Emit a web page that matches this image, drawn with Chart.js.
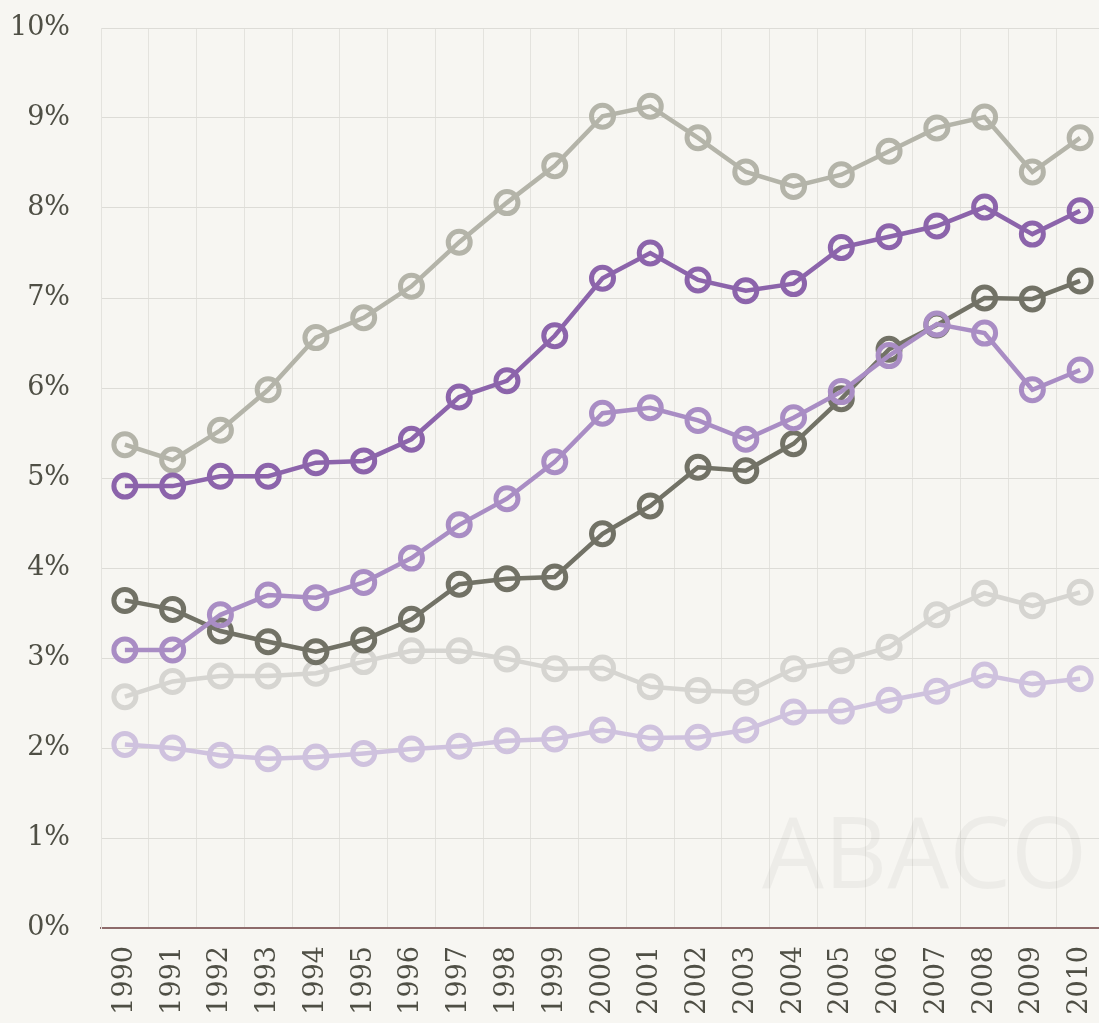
<!DOCTYPE html>
<html>
<head>
<meta charset="utf-8">
<script src="https://cdn.jsdelivr.net/npm/chart.js@4.4.1/dist/chart.umd.min.js"></script>
<style>
  html, body { margin: 0; padding: 0; background: #f7f6f2; overflow: hidden; }
  #wrap { width: 1099px; height: 1023px; overflow: hidden; }
  #inner { width: 1120px; height: 1040px; }
</style>
</head>
<body>
<div id="wrap"><div id="inner"><canvas id="lineChart" width="1120" height="1040"></canvas></div></div>
<script>
const years = ['1990','1991','1992','1993','1994','1995','1996','1997','1998','1999','2000',
  '2001','2002','2003','2004','2005','2006','2007','2008','2009','2010']

const seriesA = [5.37, 5.2, 5.53, 5.98, 6.56, 6.78, 7.13, 7.62, 8.06, 8.47, 9.02, 9.13, 8.78, 8.4, 8.24, 8.37, 8.63, 8.89, 9.01, 8.4, 8.78]
const seriesB = [4.91, 4.91, 5.02, 5.02, 5.17, 5.19, 5.43, 5.9, 6.08, 6.58, 7.22, 7.5, 7.2, 7.08, 7.16, 7.56, 7.68, 7.8, 8.01, 7.71, 7.97]
const seriesC = [3.64, 3.54, 3.3, 3.18, 3.07, 3.2, 3.43, 3.82, 3.88, 3.9, 4.38, 4.69, 5.12, 5.08, 5.38, 5.88, 6.43, 6.7, 7.0, 6.99, 7.19]
const seriesD = [3.09, 3.09, 3.48, 3.7, 3.67, 3.84, 4.11, 4.48, 4.77, 5.18, 5.72, 5.78, 5.64, 5.43, 5.67, 5.96, 6.36, 6.71, 6.61, 5.98, 6.2]
const seriesE = [2.57, 2.74, 2.8, 2.8, 2.83, 2.96, 3.08, 3.08, 2.99, 2.88, 2.89, 2.68, 2.64, 2.62, 2.88, 2.97, 3.12, 3.48, 3.72, 3.58, 3.73]
const seriesF = [2.04, 2.0, 1.92, 1.88, 1.9, 1.94, 1.99, 2.02, 2.08, 2.1, 2.2, 2.11, 2.12, 2.2, 2.4, 2.41, 2.53, 2.63, 2.81, 2.71, 2.77]

const yTicks = [0, 1, 2, 3, 4, 5, 6, 7, 8, 9, 10]

function series(data, color) {
  return {
    data: data,
    borderColor: color,
    backgroundColor: 'rgba(0,0,0,0)',
    borderWidth: 4.5,
    pointRadius: 11,
    pointBorderWidth: 5,
    pointBorderColor: color,
    pointBackgroundColor: 'rgba(0,0,0,0)',
    pointHoverRadius: 11,
    tension: 0,
    fill: false
  }
}

// faint logo in the lower right corner
const watermark = {
  id: 'watermark',
  beforeDatasetsDraw(chart) {
    const ctx = chart.ctx
    ctx.save()
    ctx.fillStyle = 'rgba(0,0,0,0.04)'
    ctx.font = '400 98px "Open Sans"'
    ctx.textBaseline = 'alphabetic'
    ctx.fillText('ABACO', 762, 888)
    ctx.restore()
  }
}

const axisFont = { family: '"DejaVu Serif", serif', size: 27 }

const ctx = document.getElementById('lineChart').getContext('2d')
const config = {
  type: 'line',
  data: {
    labels: years,
    datasets: [
      series(seriesB, '#8c64ab'),
      series(seriesA, '#b4b4a9'),
      series(seriesD, '#a98dc4'),
      series(seriesC, '#727266'),
      series(seriesE, '#d6d5d1'),
      series(seriesF, '#cfc2de')
    ]
  },
  options: {
    responsive: false,
    animation: false,
    layout: { padding: { top: 28, right: 0, left: 0, bottom: 0 } },
    scales: {
      x: {
        offset: true,
        grid: { offset: true, color: '#e4e3de', lineWidth: 1, drawTicks: false },
        border: { color: '#8e6b6b', width: 2 },
        ticks: {
          padding: 18,
          maxRotation: 90,
          minRotation: 90,
          color: '#4f4f45',
          font: axisFont
        },
        afterFit(scale) {
          scale.height = 112
          scale.paddingLeft = 0
          scale.paddingRight = 0
        }
      },
      y: {
        min: 0,
        max: 10,
        afterBuildTicks(scale) { scale.ticks = yTicks.map(v => ({ value: v })) },
        grid: { color: '#dddcd7', lineWidth: 1, drawTicks: false },
        border: { color: '#e4e3de' },
        ticks: {
          padding: 31,
          color: '#4f4f45',
          font: axisFont,
          callback: v => v + '%'
        },
        afterFit(scale) {
          scale.width = 101
          scale.paddingTop = 0
          scale.paddingBottom = 0
        }
      }
    },
    plugins: {
      legend: { display: false },
      tooltip: { enabled: false }
    }
  },
  plugins: [watermark]
}
const chart = new Chart(ctx, config)
</script>
</body>
</html>
